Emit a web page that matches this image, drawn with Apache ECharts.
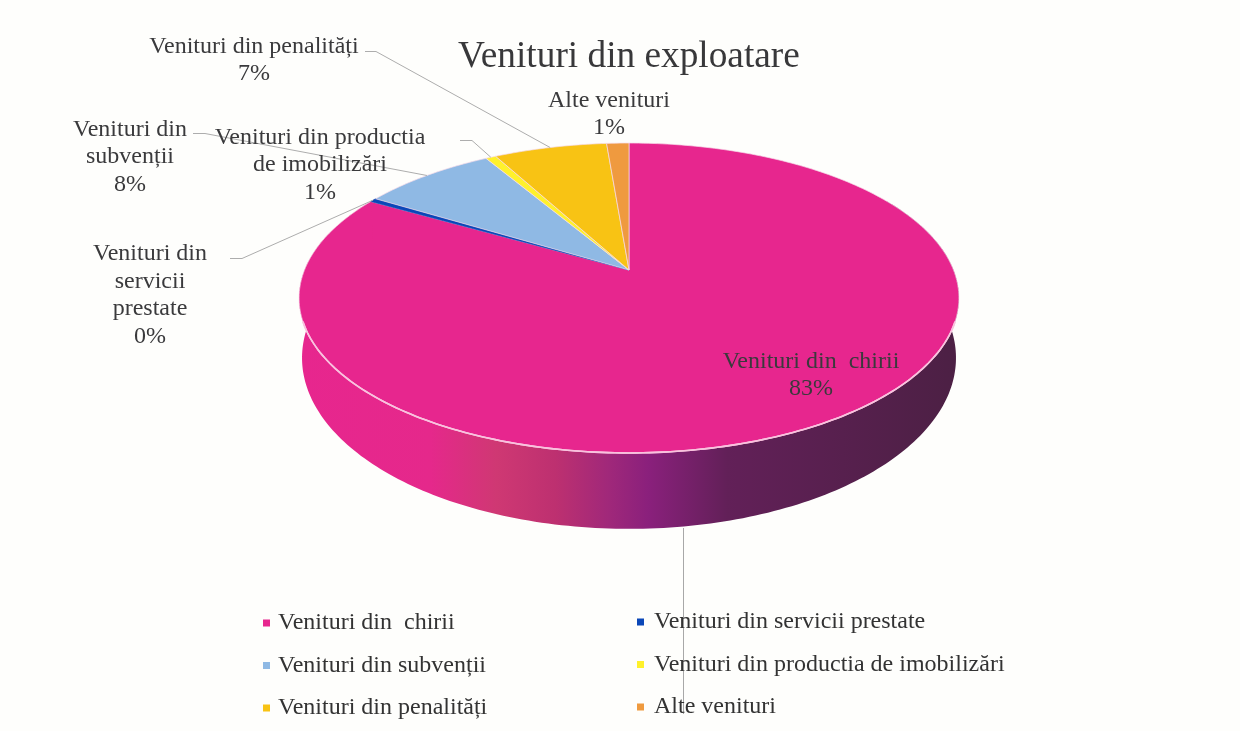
<!DOCTYPE html>
<html>
<head>
<meta charset="utf-8">
<title>Venituri din exploatare</title>
<script src="https://cdn.jsdelivr.net/npm/echarts@6/dist/echarts.min.js"></script>
<style>
html, body { margin: 0; padding: 0; background: #fefefc; }
#main { width: 1240px; height: 731px; }
</style>
</head>
<body>
<div id="main"></div>
<script>
// date
const categories = ['Venituri din  chirii', 'Venituri din servicii prestate', 'Venituri din subvenții', 'Venituri din productia de imobilizări', 'Venituri din penalități', 'Alte venituri']
const shares = [83.3, 0.4, 7.8, 0.6, 6.6, 1.3]
const labelNames = ['Venituri din  chirii', 'Venituri din\nservicii\nprestate', 'Venituri din\nsubvenții', 'Venituri din productia\nde imobilizări', 'Venituri din penalități', 'Alte venituri']

const sliceColors = ['#e7268e', '#0b47b8', '#8fb9e4', '#fff12b', '#f8c314', '#ef9a3f']
const labelCenters = [[811, 375], [150, 295], [130, 157], [320, 165], [254, 60], [609, 114]]
// capetele liniilor de legatura (ultimul punct vine din felie)
const leaderStarts = [[[683.5, 714]], [[230, 258.5], [242, 258.5]], [[193, 133.5], [205, 133.5]], [[460, 140.5], [472, 140.5]], [[365, 51.5], [376, 51.5]], []]

const total = shares.reduce((a, b) => a + b, 0)
const cx = 629
const tilt = 0.1806
const topRim = { y0: 270, kx: 324.5, ky: 149.9 }
const bottomRim = { y0: 327, kx: 321.6, ky: 165.4 }

// unghiul se masoara din varf, in sensul acelor de ceasornic
function rimPoint(rim, deg) {
  const rad = deg * Math.PI / 180
  const u = Math.sin(rad)
  const v = Math.cos(rad)
  const w = 1 + tilt * v
  return [cx + rim.kx * u / w, rim.y0 - rim.ky * v / w]
}

function arc(rim, from, to) {
  const pts = []
  const n = Math.max(2, Math.ceil(Math.abs(to - from)))
  for (let i = 0; i <= n; i++) {
    pts.push(rimPoint(rim, from + (to - from) * i / n))
  }
  return pts
}

const sideFill = new echarts.graphic.LinearGradient(299, 0, 958, 0, [
  { offset: 0, color: '#e7268e' },
  { offset: 0.2, color: '#e5288b' },
  { offset: 0.3, color: '#cf3873' },
  { offset: 0.39, color: '#bd3070' },
  { offset: 0.47, color: '#a0287a' },
  { offset: 0.53, color: '#8a207c' },
  { offset: 0.65, color: '#622058' },
  { offset: 1, color: '#4c2044' }
], true)

function renderSlice(index) {
  return function(params, api) {
    const value = api.value(0)
    let before = 0
    for (let i = 0; i < index; i++) before += shares[i]
    const start = before / total * 360
    const end = start + value / total * 360
    const mid = (start + end) / 2
    const children = []

    // peretele lateral, doar partea din fata
    const sideFrom = Math.max(start, 60)
    const sideTo = Math.min(end, 300)
    if (sideTo > sideFrom) {
      children.push({
        type: 'polygon',
        shape: { points: arc(topRim, sideFrom, sideTo).concat(arc(bottomRim, sideTo, sideFrom)) },
        style: { fill: sideFill }
      })
    }

    children.push({
      type: 'polygon',
      shape: { points: [[cx, topRim.y0]].concat(arc(topRim, start, end)) },
      style: { fill: sliceColors[index], stroke: index === 1 ? sliceColors[index] : '#f6dbe9', lineWidth: 0.7 }
    })

    if (sideTo > sideFrom) {
      children.push({
        type: 'polyline',
        shape: { points: arc(topRim, 109, 251) },
        style: { fill: null, stroke: '#f9c2de', lineWidth: 1.6 }
      })
    }

    const starts = leaderStarts[index]
    if (starts.length === 1) {
      children.push({
        type: 'polyline',
        shape: { points: [starts[0], [starts[0][0], 528]] },
        style: { fill: null, stroke: '#a8a8a8', lineWidth: 1 }
      })
    } else if (starts.length) {
      children.push({
        type: 'polyline',
        shape: { points: starts.concat([rimPoint(topRim, mid)]) },
        style: { fill: null, stroke: '#adadad', lineWidth: 1 }
      })
    }

    children.push({
      type: 'text',
      style: {
        x: labelCenters[index][0],
        y: labelCenters[index][1],
        text: labelNames[index] + '\n' + Math.round(value / total * 100) + '%',
        align: 'center',
        verticalAlign: 'middle',
        font: '24px "Liberation Serif"',
        lineHeight: 27.5,
        fill: '#3a3a3c'
      }
    })
    return { type: 'group', children }
  }
}

const legendText = { fontFamily: 'Liberation Serif', fontSize: 24, color: '#333', padding: [0, 0, 0, 3] }
const legendRight = { fontFamily: 'Liberation Serif', fontSize: 24, color: '#333', padding: [0, 0, 0, 5] }

const chart = echarts.init(document.getElementById('main'), null, { renderer: 'canvas' })
chart.setOption({
  animation: false,
  backgroundColor: '#fefefc',
  color: sliceColors,
  title: {
    text: 'Venituri din exploatare',
    left: 458,
    top: 39,
    padding: 0,
    textStyle: { fontFamily: 'Liberation Serif', fontSize: 37.3, fontWeight: 'normal', color: '#38383a' }
  },
  legend: [
    {
      data: [categories[0], categories[2], categories[4]],
      orient: 'vertical',
      left: 263,
      top: 611,
      padding: 0,
      itemWidth: 7,
      itemHeight: 7,
      itemGap: 18.5,
      icon: 'rect',
      textStyle: legendText
    },
    {
      data: [categories[1], categories[3], categories[5]],
      orient: 'vertical',
      left: 637,
      top: 610,
      padding: 0,
      itemWidth: 7,
      itemHeight: 7,
      itemGap: 18.5,
      icon: 'rect',
      textStyle: legendRight
    }
  ],
  series: categories.map((name, i) => ({
    type: 'custom',
    name,
    coordinateSystem: 'none',
    data: [[shares[i]]],
    renderItem: renderSlice(i),
    itemStyle: { color: sliceColors[i] },
    silent: true
  }))
})
</script>
</body>
</html>
